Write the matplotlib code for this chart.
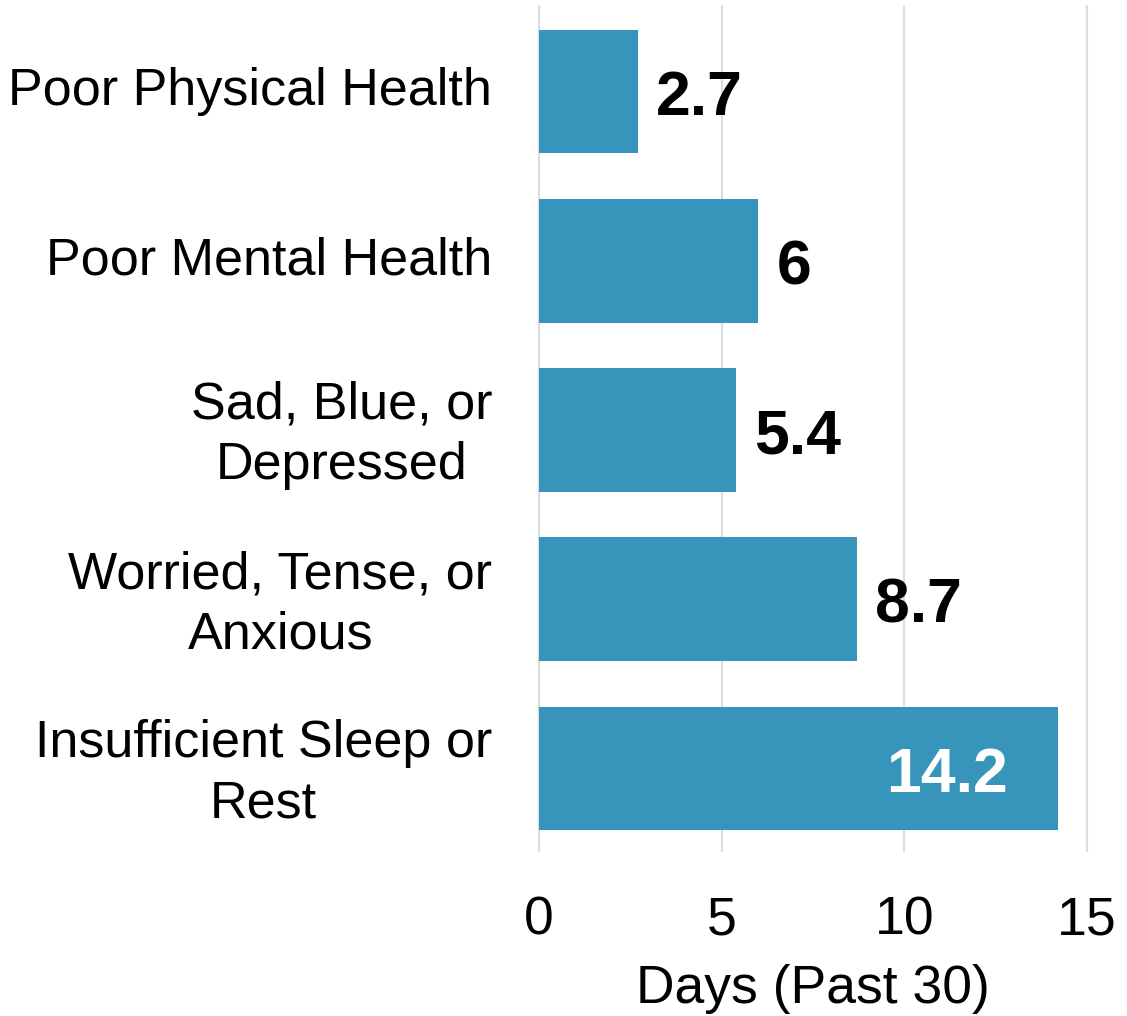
import numpy as np
import matplotlib.pyplot as plt
import matplotlib.transforms as mtransforms

categories = ["Poor Physical Health", "Poor Mental Health", "Sad, Blue, or\nDepressed",
              "Worried, Tense, or\nAnxious", "Insufficient Sleep or\nRest"]
days = [2.7, 6.0, 5.4, 8.7, 14.2]
value_labels = ["2.7", "6", "5.4", "8.7", "14.2"]
xticks = [0, 5, 10, 15]

plt.rcParams['font.family'] = ['Liberation Sans', 'DejaVu Sans']

W, H = 1127, 1016
fig = plt.figure(figsize=(W / 100, H / 100), dpi=100)
ax = fig.add_axes([535.3 / W, 164 / H, 555.4 / W, 847 / H])

bar_color = '#3794ba'
ypos = np.arange(len(categories))[::-1]
ax.barh(ypos, days, height=0.73, color=bar_color, zorder=2)

for y, v, lab in zip(ypos, days, value_labels):
	if v > 12:
		ax.text(v - 1.37, y - 0.139, lab, ha='right', va='baseline', fontsize=45,
			fontweight='bold', color='white', zorder=3)
	else:
		ax.text(v + 0.5, y - 0.139, lab, ha='left', va='baseline', fontsize=45,
			fontweight='bold', color='black', zorder=3)

ax.set_xlim(-0.1, 15.1)
ax.set_ylim(-0.494, 4.512)
ax.set_xticks(xticks)
ax.set_xticklabels([str(t) for t in xticks], fontsize=38.5)
ax.set_yticks(ypos)
ax.set_yticklabels(categories, fontsize=37.5, multialignment='center', linespacing=1.3)
ax.tick_params(axis='both', length=0)
ax.tick_params(axis='x', pad=31.5)
ax.tick_params(axis='y', pad=31)
shift = mtransforms.ScaledTranslation(0, 4 / 72, fig.dpi_scale_trans)
for lbl in ax.get_yticklabels():
	lbl.set_transform(lbl.get_transform() + shift)
ax.grid(axis='x', color='#dddddd', lw=1.6, zorder=0)
for s in ax.spines.values():
	s.set_visible(False)
ax.set_xlabel("Days (Past 30)", fontsize=38.5, labelpad=13)

fig.savefig("out.png", dpi=100)
